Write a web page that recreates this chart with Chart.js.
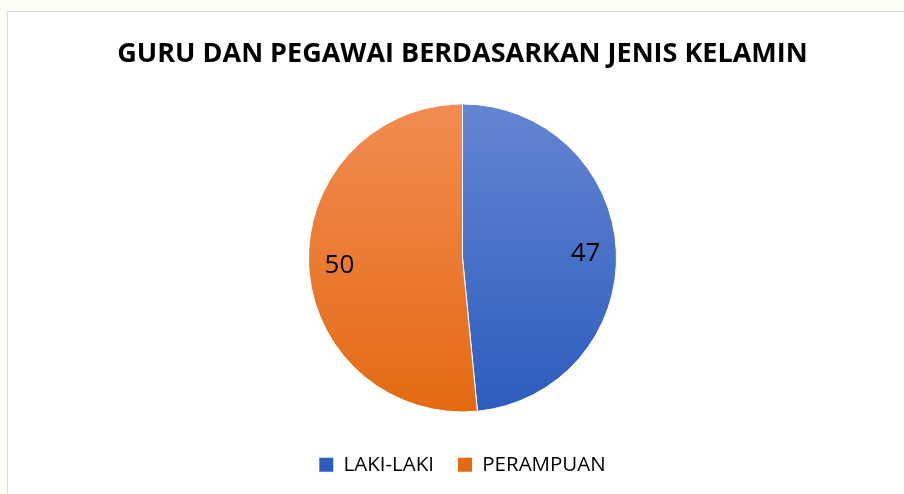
<!DOCTYPE html>
<html><head><meta charset="utf-8">
<script src="https://cdn.jsdelivr.net/npm/chart.js@4.4.1/dist/chart.umd.min.js"></script>
<style>
html,body{margin:0;padding:0;width:904px;height:494px;overflow:hidden;background:#fdfdf6;}
#box{position:absolute;left:7px;top:11px;width:897px;height:483px;background:#fff;border-left:1px solid #d9dde3;border-top:1px solid #d9dde3;box-sizing:border-box;}
canvas{display:block;}
</style></head><body>
<div id="box"><canvas id="c" width="896" height="482"></canvas></div>
<script>
const title = 'GURU DAN PEGAWAI BERDASARKAN JENIS KELAMIN';
const categories = ['LAKI-LAKI', 'PERAMPUAN'];
const values = [47, 50];
const topColors = ['#6485d2', '#f28c52'];
const bottomColors = ['#2c5cbd', '#e36a12'];
const pieRadius = 154;

function grad(ctx, area, i) {
  if (!area) return bottomColors[i];
  const cy = (area.top + area.bottom) / 2;
  const g = ctx.createLinearGradient(0, cy - pieRadius, 0, cy + pieRadius);
  g.addColorStop(0, topColors[i]);
  g.addColorStop(1, bottomColors[i]);
  return g;
}

const labelPlugin = {
  id: 'sliceLabels',
  afterDatasetsDraw(chart) {
    const ctx = chart.ctx;
    const meta = chart.getDatasetMeta(0);
    ctx.save();
    ctx.font = '26px "Open Sans"';
    ctx.fillStyle = '#000';
    ctx.textAlign = 'center';
    ctx.textBaseline = 'middle';
    meta.data.forEach((arc, i) => {
      const p = arc.getProps(['x','y','startAngle','endAngle','outerRadius'], true);
      const mid = (p.startAngle + p.endAngle) / 2;
      const r = p.outerRadius * 0.8;
      ctx.fillText(String(values[i]), p.x + Math.cos(mid) * r, p.y + Math.sin(mid) * r + 2);
    });
    ctx.restore();
  }
};

new Chart(document.getElementById('c'), {
  type: 'pie',
  data: {
    labels: categories,
    datasets: [{
      data: values,
      backgroundColor: (c) => grad(c.chart.ctx, c.chart.chartArea, c.dataIndex),
      borderColor: '#ffffff',
      borderWidth: 1
    }]
  },
  options: {
    responsive: false,
    animation: false,
    radius: pieRadius,
    layout: { padding: { left: 13, right: 0, top: 0, bottom: 9 } },
    plugins: {
      title: {
        display: true,
        text: title,
        color: '#000',
        font: { family: '"Open Sans"', size: 27, weight: 'bold' },
        padding: { top: 26, bottom: 15 }
      },
      legend: {
        position: 'bottom',
        labels: {
          color: '#44546a',
          font: { family: '"Open Sans"', size: 20.5 },
          boxWidth: 14,
          boxHeight: 14,
          padding: 24,
          generateLabels(chart) {
            return categories.map((t, i) => {
              const fill = grad(chart.ctx, chart.chartArea, i);
              return { text: t, fillStyle: bottomColors[i], strokeStyle: bottomColors[i], lineWidth: 0, index: i, hidden: false };
            });
          }
        }
      },
      tooltip: { enabled: false }
    }
  },
  plugins: [labelPlugin]
});
</script>
</body></html>
